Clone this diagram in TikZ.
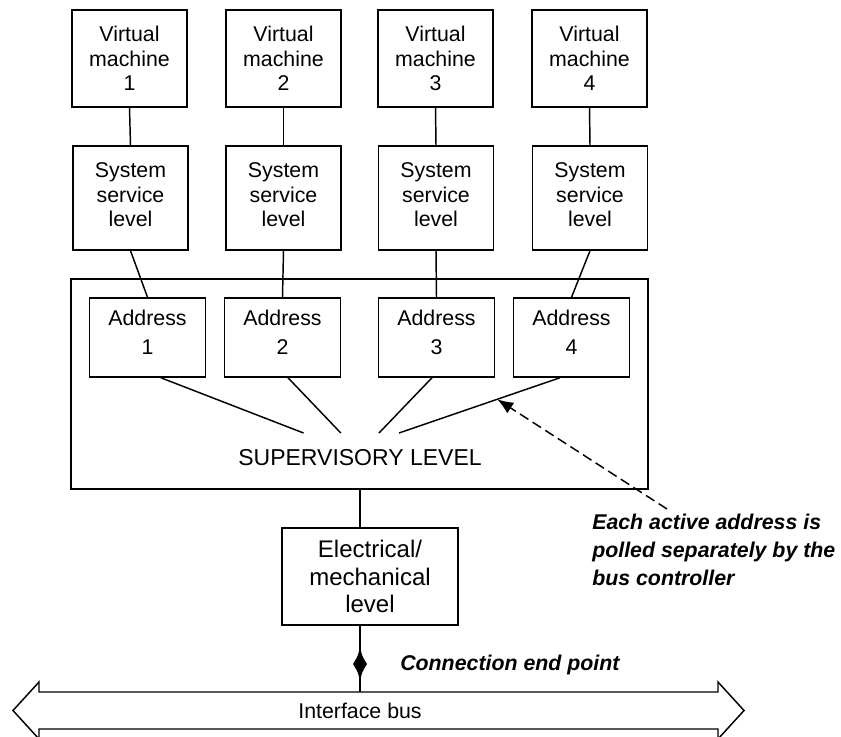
\documentclass[tikz,border=0pt]{standalone}
\usepackage{fontspec}
\setmainfont{Liberation Sans}
\usetikzlibrary{arrows.meta,calc}
\begin{document}
\begin{tikzpicture}[x=0.75pt,y=-0.75pt,
  box/.style={draw,line width=1.1pt,align=center,inner sep=0pt,font=\fontsize{16}{18.4}\selectfont},
  vmbox/.style={box,minimum width=86.25pt,minimum height=72.75pt},
  ssbox/.style={box,minimum width=86.25pt,minimum height=78pt},
  adbox/.style={box,minimum width=87pt,minimum height=59.25pt},
  txt/.style={align=center,inner sep=0pt,font=\fontsize{16}{18.4}\selectfont},
  wire/.style={line width=1.1pt},
  note/.style={font=\fontsize{16}{21}\selectfont\bfseries\itshape,align=left,inner sep=0pt}]
\useasboundingbox (0,0) rectangle (841,737);

% supervisory frame
\node[draw,line width=1.1pt,minimum width=432.75pt,minimum height=157.5pt,inner sep=0pt] (sup) at (359.5,384) {};
\node[font=\fontsize{17.25}{20}\selectfont,inner sep=0pt] (suptext) at (360,458) {SUPERVISORY LEVEL};

% virtual machines
\node[vmbox] (vm1) at (129.5,58.5) {Virtual\\machine\\1};
\node[vmbox] (vm2) at (283.5,58.5) {Virtual\\machine\\2};
\node[vmbox] (vm3) at (435.5,58.5) {Virtual\\machine\\3};
\node[vmbox] (vm4) at (589.5,58.5) {Virtual\\machine\\4};

% system service level
\node[ssbox] (ss1) at (130.5,198) {};
\node[ssbox] (ss2) at (283.5,198) {};
\node[ssbox] (ss3) at (436,198) {};
\node[ssbox] (ss4) at (590,198) {};
\foreach \i in {1,...,4} {\node[txt] (ss\i t) at ($(ss\i)+(0,-3)$) {System\\service\\level};}

% addresses
\node[adbox] (a1) at (147.5,337.5) {};
\node[adbox] (a2) at (282.5,337.5) {};
\node[adbox] (a3) at (436.5,337.5) {};
\node[adbox] (a4) at (571.5,337.5) {};
\foreach \i in {1,...,4} {\node[txt] (a\i t) at ($(a\i)+(0,-5)$) {Address\\[3pt]\i};}

% electrical / mechanical
\node[box,font=\fontsize{18}{20.6}\selectfont,minimum width=132pt,minimum height=72.75pt] (elec) at (370,576.5) {Electrical/\\mechanical\\level};

% VM -> SS
\foreach \i in {1,...,4} {\draw[wire] (vm\i.south) -- (ss\i.north);}

% SS -> Address
\draw[wire] (ss1.south) -- (a1.north);
\draw[wire] (ss2.south) -- (a2.north);
\draw[wire] (ss3.south) -- (a3.north);
\draw[wire] (ss4.south) -- (a4.north);

% fan lines toward the supervisory label
\coordinate (f1) at (303.5,433);
\coordinate (f2) at (340.8,433);
\coordinate (f3) at (379,433);
\coordinate (f4) at (399,433);
\coordinate (s1) at ($(a1.south)+(13.3,0)$);
\coordinate (s2) at ($(a2.south)+(5.5,0)$);
\coordinate (s3) at ($(a3.south)+(-4.5,0)$);
\coordinate (s4) at ($(a4.south)+(-11.5,0)$);
\draw[wire] (s1) -- (f1);
\draw[wire] (s2) -- (f2);
\draw[wire] (s3) -- (f3);
\draw[wire] (s4) -- (f4);

% axis connectors
\coordinate (ax) at (360,0);
\draw[wire] (sup.south -| ax) -- (elec.north -| ax);
\coordinate (bustop) at (360,692);
\draw[wire] (elec.south -| ax) -- (bustop);
\fill (360,645) .. controls (361.5,655) .. (367,664) .. controls (361.5,673) .. (360,683)
      .. controls (358.5,673) .. (353,664) .. controls (358.5,655) .. (360,645) -- cycle;

% interface bus
\draw[wire,line join=miter] (13,710.5) -- (39,682) -- (39,692) -- (718,692) -- (718,682) -- (744,710.5)
   -- (718,739) -- (718,729) -- (39,729) -- (39,739) -- cycle;
\node[font=\fontsize{16}{18.4}\selectfont,inner sep=0pt] (bus) at (360,710.5) {Interface bus};

% annotations
\node[note,anchor=west] (cep) at (400,665) {Connection end point};
\node[note,anchor=west] (poll) at (592,550) {Each active address is\\polled separately by the\\bus controller};
\coordinate (dstart) at (667,509);
\coordinate (dtip) at ($(s4)!0.39!(f4)$);
\draw[wire,dash pattern=on 7.5pt off 3.75pt,-{Latex[length=12pt,width=9.5pt]}] (dstart) -- (dtip);
\end{tikzpicture}
\end{document}
